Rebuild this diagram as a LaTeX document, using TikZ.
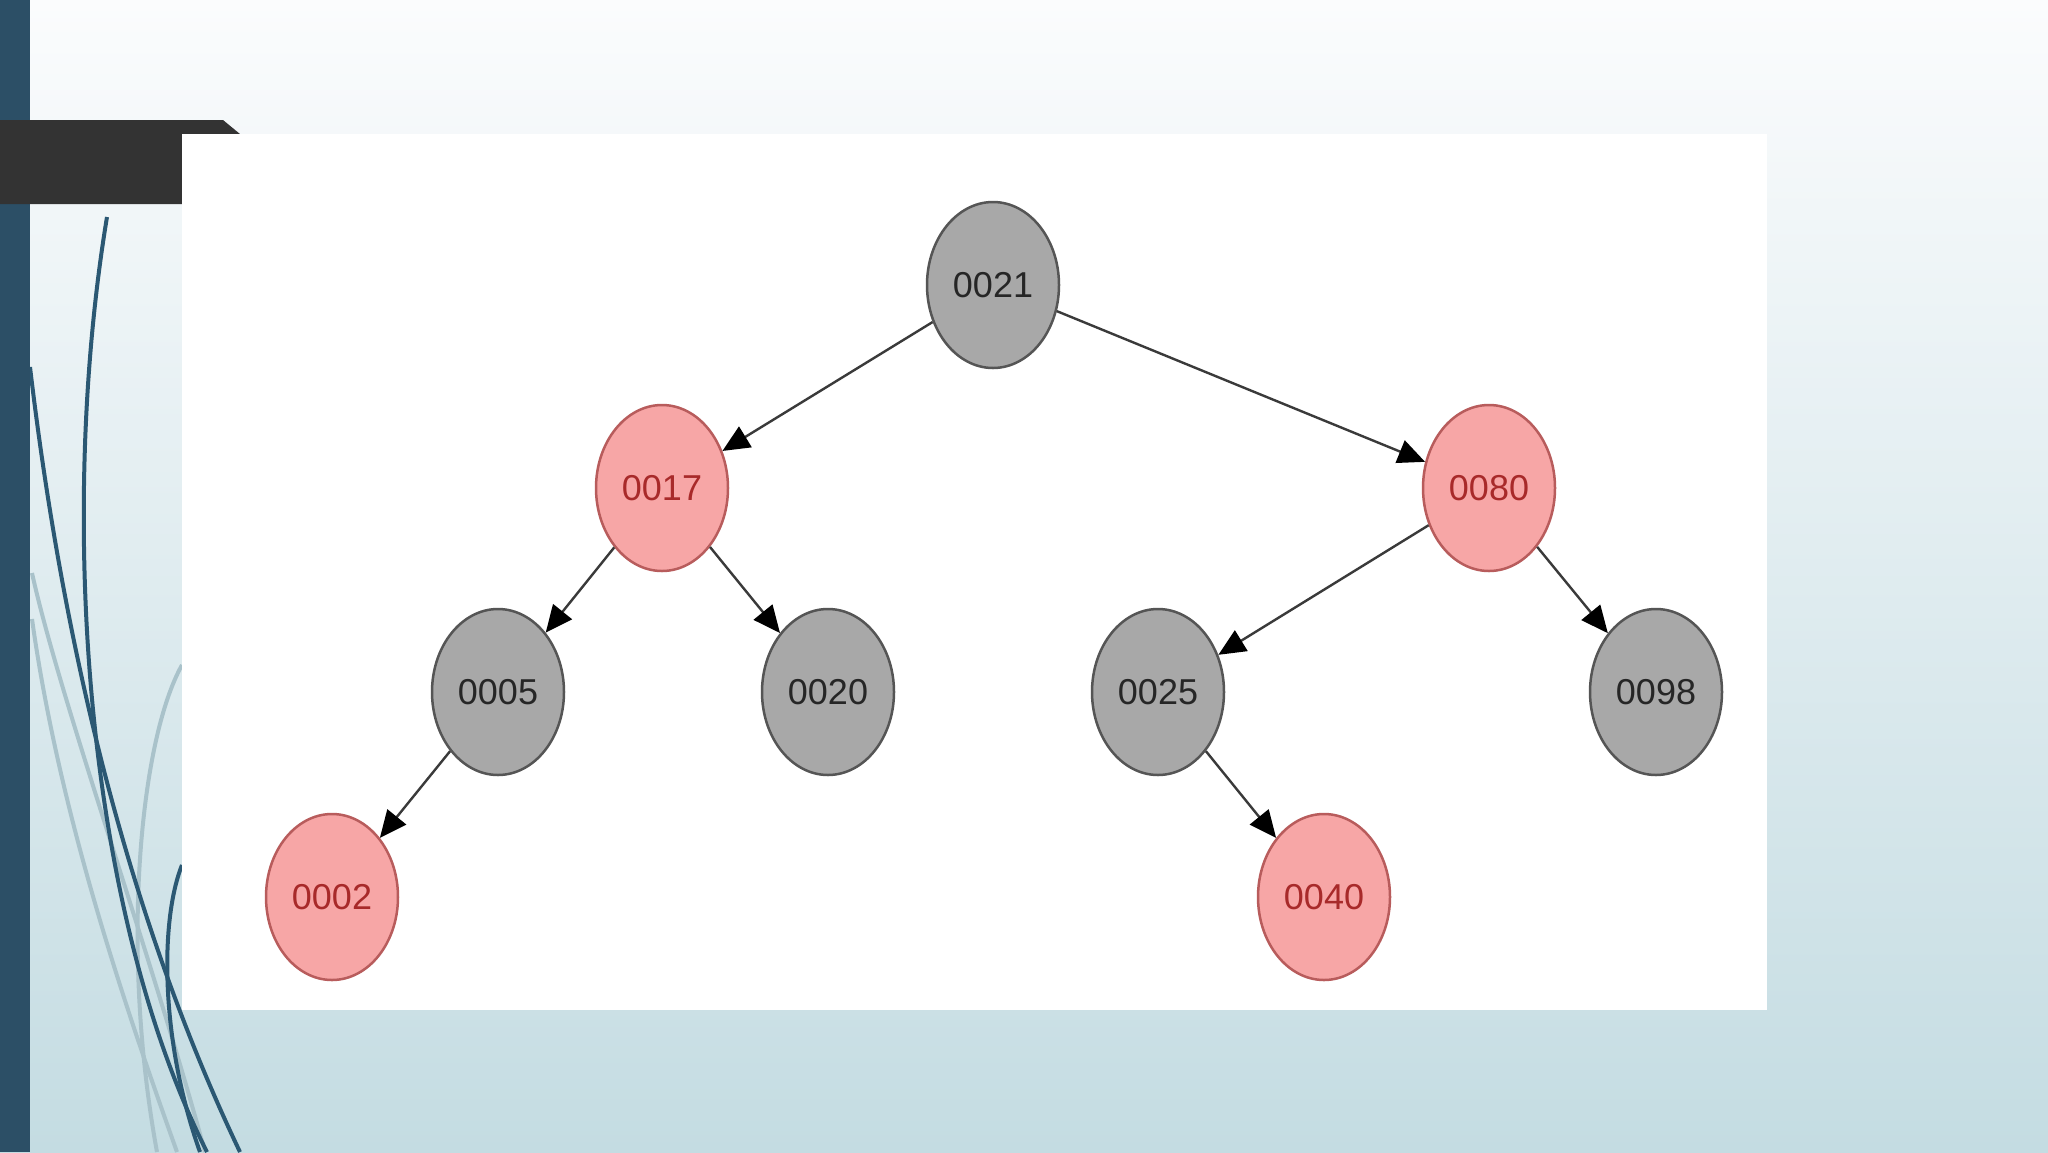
\documentclass[tikz,border=0pt]{standalone}
\usepackage{fontspec}
\setmainfont{Liberation Sans}
\usetikzlibrary{arrows.meta,shapes.geometric}
\definecolor{bgtop}{HTML}{FBFCFD}
\definecolor{bgbot}{HTML}{C4DCE2}
\definecolor{barblue}{HTML}{2C4F66}
\definecolor{curvedark}{HTML}{2B5873}
\definecolor{curvelight}{HTML}{A9C2CA}
\definecolor{headgray}{HTML}{333333}
\definecolor{graynode}{HTML}{A8A8A8}
\definecolor{grayedge}{HTML}{555555}
\definecolor{rednode}{HTML}{F7A6A6}
\definecolor{rededge}{HTML}{B85C5C}
\definecolor{redtext}{HTML}{A82A2A}
\definecolor{linkcol}{HTML}{3A3A3A}
\begin{document}
\begin{tikzpicture}[x=1pt,y=-1pt,
  treenode/.style={ellipse,minimum width=132pt,minimum height=166pt,inner sep=0pt,
    line width=2.5pt,font=\fontsize{36}{40}\selectfont},
  blacknode/.style={treenode,fill=graynode,draw=grayedge,text=black!85},
  rednd/.style={treenode,fill=rednode,draw=rededge,text=redtext},
  link/.style={draw=linkcol,line width=2.4pt,-{Triangle[length=27pt,width=24pt,fill=black,color=black]}},
  darkcurve/.style={curvedark,line width=4pt},
  lightcurve/.style={curvelight,line width=4pt}]
\useasboundingbox (0,0) rectangle (2048,1152);
% background
\shade[top color=bgtop,bottom color=bgbot] (0,0) rectangle (2048,1152);
% decorative curves
\draw[lightcurve] (32,573) .. controls (60,700) and (150,950) .. (205,1152);
\draw[lightcurve] (32,619) .. controls (60,820) and (130,1020) .. (177,1152);
\draw[lightcurve] (182,665) .. controls (140,740) and (120,950) .. (157,1152);
\draw[darkcurve] (30,367) .. controls (60,620) and (120,900) .. (240,1152);
\draw[darkcurve] (107,217) .. controls (60,500) and (80,900) .. (207,1152);
\draw[darkcurve] (182,865) .. controls (160,920) and (160,1040) .. (200,1152);
% left bar
\fill[barblue] (0,0) rectangle (30,1152);
% header bar
\fill[headgray] (0,120) -- (223,120) -- (240,134) -- (240,204) -- (0,204) -- cycle;
% panel
\fill[white] (182,134) rectangle (1767,1010);
% tree
\node[blacknode] (n21) at (993,285) {0021};
\node[rednd] (n17) at (662,488) {0017};
\node[rednd] (n80) at (1489,488) {0080};
\node[blacknode] (n05) at (498,692) {0005};
\node[blacknode] (n20) at (828,692) {0020};
\node[blacknode] (n25) at (1158,692) {0025};
\node[blacknode] (n98) at (1656,692) {0098};
\node[rednd] (n02) at (332,897) {0002};
\node[rednd] (n40) at (1324,897) {0040};
\draw[link] (n21) -- (n17);
\draw[link] (n21) -- (n80);
\draw[link] (n17) -- (n05);
\draw[link] (n17) -- (n20);
\draw[link] (n80) -- (n25);
\draw[link] (n80) -- (n98);
\draw[link] (n05) -- (n02);
\draw[link] (n25) -- (n40);
\end{tikzpicture}
\end{document}
